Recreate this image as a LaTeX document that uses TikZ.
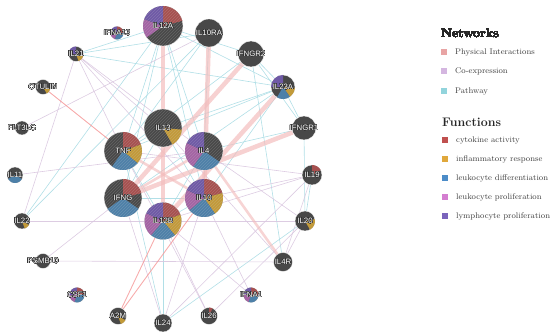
\documentclass[tikz,border=0pt]{standalone}
\usepackage{fontspec}
\setsansfont{Liberation Sans}
\usepackage[copies]{contour}
\contourlength{0.28pt}
\contournumber{16}
\usetikzlibrary{patterns}
\definecolor{ndark}{HTML}{484848}
\definecolor{cR}{HTML}{A6504F}
\definecolor{cG}{HTML}{C29A3A}
\definecolor{cB}{HTML}{4D80A8}
\definecolor{cP}{HTML}{A464A4}
\definecolor{cV}{HTML}{6F5AA6}
\definecolor{lPI}{HTML}{E8A4A4}
\definecolor{lCO}{HTML}{D4B6E0}
\definecolor{lPW}{HTML}{92D4DC}
\definecolor{fR}{HTML}{C0504F}
\definecolor{fG}{HTML}{E0A83C}
\definecolor{fB}{HTML}{4C8CC8}
\definecolor{fP}{HTML}{D47ED0}
\definecolor{fV}{HTML}{7A64BC}
\definecolor{ePI}{HTML}{F3BDBD}
\definecolor{eCO}{HTML}{D9C6DF}
\definecolor{ePW}{HTML}{A9DCE4}
\pgfdeclarelayer{bg}
\pgfsetlayers{bg,main}
\newcommand\gene[4]{\node[gene, minimum size={2*#4pt}] (#1) at (#2,#3) {};}
\newcommand\glabel[2]{\node[glab] (#1-l) at (#1.center) {\contour{black!80}{#2}};}
\newcommand\slc[5]{\fill[#5] (#1.center) -- ++({90-#3}:#2pt) arc[start angle={90-#3}, end angle={90-#4}, radius=#2pt] -- cycle;}
\newcommand\hatch[2]{\fill[pattern=north east lines, pattern color=white!70!gray, opacity=0.2] (#1.center) circle[radius=#2pt];}
\tikzset{
  gene/.style={circle, fill=ndark, draw=white, line width=0.3pt, inner sep=0pt},
  glab/.style={text=white, font=\sffamily\fontsize{7.8}{9}\selectfont, inner sep=0pt},
  phys/.style={draw=ePI, line width=4.5pt, opacity=0.7},
  physm/.style={draw=ePI, line width=2.6pt, opacity=0.65},
  physt/.style={draw=ePI!80!red, line width=0.9pt, opacity=0.8},
  coex/.style={draw=eCO, line width=0.6pt, opacity=0.9},
  pway/.style={draw=ePW, line width=0.6pt, opacity=0.9},
  sq/.style={minimum size=6.5pt, inner sep=0pt},
  legt/.style={anchor=west, inner sep=0pt, font=\fontsize{8.2}{9}\selectfont, text=black!75},
  legh/.style={anchor=west, inner sep=0pt, font=\bfseries\fontsize{12.4}{14}\selectfont, text=black!85}
}
\begin{document}
\begin{tikzpicture}[x=1pt,y=-1pt]
\useasboundingbox (0,0) rectangle (550,336);
\gene{IL12A}{163}{26}{20}
\gene{IL10RA}{209}{33}{14}
\gene{IFNA13}{117}{33}{6.5}
\gene{IL21}{76}{54}{7.5}
\gene{IFNGR2}{251}{54}{13}
\gene{OTULIN}{43}{87}{7.5}
\gene{IL23A}{283}{87}{12}
\gene{FLT3LG}{22}{128}{7}
\gene{IL13}{163}{128}{19}
\gene{TNF}{123}{151}{19}
\gene{IL4}{204}{151}{19}
\gene{IFNGR1}{304}{128}{12}
\gene{IL11}{15}{175}{8}
\gene{IL19}{312}{175}{10}
\gene{IFNG}{123}{198}{19}
\gene{IL10}{204}{198}{19}
\gene{IL12B}{163}{221}{18.5}
\gene{IL22}{22}{221}{8}
\gene{IL20}{305}{221}{10}
\gene{PSMB10}{43}{261}{7.5}
\gene{IL4R}{283}{262}{9.5}
\gene{CSF1}{77}{295}{7.5}
\gene{IFNA1}{251}{295}{7.5}
\gene{A2M}{118}{316}{8.5}
\gene{IL26}{209}{316}{8.5}
\gene{IL24}{163}{323}{9}
\begin{pgfonlayer}{bg}
% pathway
\foreach \a/\b in {IL12A/IL21, IL12A/IL23A, IL12A/IL10, IL12A/IL4, IL12A/IFNG, IL12A/TNF,
  IL10RA/TNF, IL10RA/IL4, IL10RA/IL21, IL10RA/IL22, IFNGR2/IFNGR1, IFNGR2/IL4R, IFNGR2/IL23A,
  IFNGR2/TNF, IL23A/IL21, IL23A/IFNGR1, IL23A/IL10, IL23A/TNF, IL23A/IFNG, IFNGR1/IL4,
  IFNGR1/IL20, IL10/IL4, TNF/IL12B, IL13/IL10, IFNG/IL10, IL19/IL20, IL24/IL20, IL24/IL12B,
  IL13/IFNG, IL13/TNF, IL12B/IL10, IL12B/IL4, IL24/TNF, IL13/IL23A, IFNGR2/IL12A, IL12A/IL22}
  \draw[pway] (\a) -- (\b);
% co-expression
\foreach \a/\b in {IL21/TNF, IL21/IL13, IL21/IL4, IL21/IL22, IL21/IL10, IL11/IL4, PSMB10/IL4R,
  PSMB10/IFNG, IL24/IFNG, IL24/IL10, IL26/IL12B, IL26/IL20, IL26/TNF, IFNA1/IL10, IFNA1/IL12B,
  IL4R/IL13, IL4R/IL19, IL4R/IL20, IL19/IL10, IL19/IL12B, IL19/TNF, IL20/IL22, IL20/IL4,
  FLT3LG/IL10RA, IL24/IL19}
  \draw[coex] (\a) -- (\b);
% physical
\foreach \a/\b in {IL4R/IL4, IFNG/IL4, TNF/IL10}
  \draw[physm] (\a) -- (\b);
\foreach \a/\b in {IL12A/IL12B, IL10RA/IL10, IFNGR2/IFNG, IL23A/IL12B, IFNGR1/IFNG}
  \draw[phys] (\a) -- (\b);
\foreach \a/\b in {OTULIN/TNF, A2M/IL10, A2M/IL12B}
  \draw[physt] (\a) -- (\b);
\end{pgfonlayer}
% pie slices
\slc{IL12A}{20}{0}{75}{cR}\slc{IL12A}{20}{235}{290}{cP}\slc{IL12A}{20}{290}{360}{cV}
\slc{IL13}{19}{95}{150}{cG}
\slc{TNF}{19}{0}{70}{cR}\slc{TNF}{19}{70}{130}{cG}\slc{TNF}{19}{130}{215}{cB}
\slc{IL4}{19}{125}{215}{cB}\slc{IL4}{19}{215}{295}{cP}\slc{IL4}{19}{295}{360}{cV}
\slc{IFNG}{19}{0}{75}{cR}\slc{IFNG}{19}{125}{235}{cB}
\slc{IL10}{19}{0}{75}{cR}\slc{IL10}{19}{75}{145}{cG}\slc{IL10}{19}{145}{230}{cB}\slc{IL10}{19}{230}{295}{cP}\slc{IL10}{19}{295}{360}{cV}
\slc{IL12B}{18.5}{0}{70}{cR}\slc{IL12B}{18.5}{70}{140}{cG}\slc{IL12B}{18.5}{140}{220}{cB}\slc{IL12B}{18.5}{220}{295}{cP}\slc{IL12B}{18.5}{295}{360}{cV}
\slc{IL23A}{12}{95}{145}{cG}\slc{IL23A}{12}{145}{210}{cB}\slc{IL23A}{12}{270}{360}{cV}
\slc{IFNA13}{6.5}{0}{90}{cR}\slc{IFNA13}{6.5}{90}{200}{cB}\slc{IFNA13}{6.5}{200}{270}{cP}\slc{IFNA13}{6.5}{270}{360}{cV}
\slc{CSF1}{7.5}{0}{90}{cR}\slc{CSF1}{7.5}{90}{200}{cB}\slc{CSF1}{7.5}{200}{270}{cP}\slc{CSF1}{7.5}{270}{360}{cV}
\slc{IFNA1}{7.5}{0}{90}{cR}\slc{IFNA1}{7.5}{90}{200}{cB}\slc{IFNA1}{7.5}{200}{270}{cP}\slc{IFNA1}{7.5}{270}{360}{cV}
\slc{IL21}{7.5}{270}{360}{cV}\slc{IL21}{7.5}{110}{160}{cG}
\slc{OTULIN}{7.5}{100}{150}{cG}
\slc{IL11}{8}{120}{240}{cB}
\slc{IL22}{8}{120}{160}{cG}
\slc{IL19}{10}{0}{60}{cR}
\slc{IL20}{10}{80}{150}{cG}
\slc{A2M}{8.5}{120}{160}{cG}
\slc{IL26}{8.5}{0}{25}{cR}
\foreach \n/\r in {IL12A/20, IL13/19, TNF/19, IL4/19, IFNG/19, IL10/19, IL12B/18.5}
  \hatch{\n}{\r}
% labels
\foreach \n in {IL12A, IL10RA, IFNA13, IL21, IFNGR2, OTULIN, IL23A, FLT3LG, IL13, TNF, IL4, IFNGR1,
  IL11, IL19, IFNG, IL10, IL12B, IL22, IL20, PSMB10, IL4R, CSF1, IFNA1, A2M, IL26, IL24}
  \glabel{\n}{\n}
% legend
\node[legh] (hNet) at (441,33) {Networks};
\node[sq, fill=lPI] (sPI) at (444,52) {};
\node[legt] (tPI) at (455,52) {Physical Interactions};
\node[sq, fill=lCO] (sCO) at (444,71) {};
\node[legt] (tCO) at (455,71) {Co-expression};
\node[sq, fill=lPW] (sPW) at (444,91) {};
\node[legt] (tPW) at (455,91) {Pathway};
\node[legh] (hFun) at (442,122) {Functions};
\node[sq, fill=fR] (s1) at (445,140) {};
\node[legt] (t1) at (456,140) {cytokine activity};
\node[sq, fill=fG] (s2) at (445,159) {};
\node[legt] (t2) at (456,159) {inflammatory response};
\node[sq, fill=fB] (s3) at (445,178) {};
\node[legt] (t3) at (456,178) {leukocyte differentiation};
\node[sq, fill=fP] (s4) at (445,197) {};
\node[legt] (t4) at (456,197) {leukocyte proliferation};
\node[sq, fill=fV] (s5) at (445,216) {};
\node[legt] (t5) at (456,216) {lymphocyte proliferation};
\end{tikzpicture}
\end{document}
